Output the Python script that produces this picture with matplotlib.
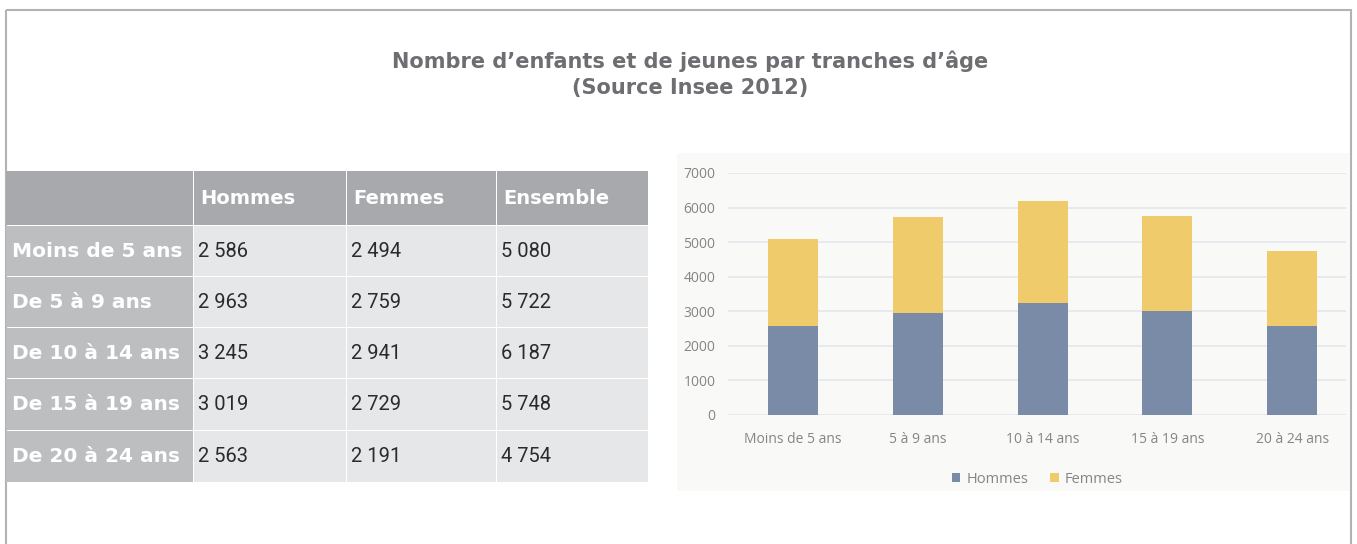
import matplotlib
matplotlib.use("Agg")
import matplotlib.pyplot as plt
from matplotlib.patches import Rectangle

# ---------------- data ----------------
age_groups = ["Moins de 5 ans", "De 5 à 9 ans", "De 10 à 14 ans", "De 15 à 19 ans", "De 20 à 24 ans"]
chart_labels = ["Moins de 5 ans", "5 à 9 ans", "10 à 14 ans", "15 à 19 ans", "20 à 24 ans"]
columns = ["Hommes", "Femmes", "Ensemble"]
hommes = [2586, 2963, 3245, 3019, 2563]
femmes = [2494, 2759, 2941, 2729, 2191]
ensemble = [5080, 5722, 6187, 5748, 4754]
y_ticks = [0, 1000, 2000, 3000, 4000, 5000, 6000, 7000]
title_lines = ["Nombre d\u2019enfants et de jeunes par tranches d\u2019âge", "(Source Insee 2012)"]

def fmt(v):
    return f"{v:,}".replace(",", " ")

BOLD = ["DejaVu Sans"]
DIGITS = ["Roboto", "DejaVu Sans"]
CHART = ["Open Sans", "DejaVu Sans"]

W, H = 1357, 544
fig = plt.figure(figsize=(W / 100, H / 100), dpi=100)
bg = fig.add_axes([0, 0, 1, 1])
bg.set_xlim(0, W)
bg.set_ylim(H, 0)
bg.axis("off")

# outer frame
bg.add_patch(Rectangle((5.5, 9.5), 1345, 545, fill=False, ec="#b3b3b3", lw=1.5))

# title
bg.text(690, 61, title_lines[0], ha="center", va="center", fontsize=15,
        fontweight="bold", color="#6d6e71", family=BOLD)
bg.text(690, 88, title_lines[1], ha="center", va="center", fontsize=15,
        fontweight="bold", color="#6d6e71", family=BOLD)

# table
col_x = [6, 193, 346, 496, 648]
row_y = [171, 225, 276, 327, 378, 430, 482]
gap = 1.2
for r in range(6):
    for c in range(4):
        x0, x1 = col_x[c], col_x[c + 1]
        y0, y1 = row_y[r], row_y[r + 1]
        if r == 0:
            color = "#a7a9ac"
        elif c == 0:
            color = "#bcbec0"
        else:
            color = "#e6e7e8"
        gx = gap if c > 0 else 0
        gy = gap if r > 0 else 0
        bg.add_patch(Rectangle((x0 + gx, y0 + gy), x1 - x0 - gx, y1 - y0 - gy,
                               fc=color, ec="none"))
for c, name in enumerate(columns):
    bg.text(col_x[c + 1] + 7, (row_y[0] + row_y[1]) / 2 + 1, name, ha="left", va="center",
            fontsize=14, fontweight="bold", color="white", family=BOLD)
table_vals = [hommes, femmes, ensemble]
for r, grp in enumerate(age_groups):
    yc = (row_y[r + 1] + row_y[r + 2]) / 2 + 1
    bg.text(col_x[0] + 6, yc, grp, ha="left", va="center", fontsize=14.5,
            fontweight="bold", color="white", family=BOLD)
    for c in range(3):
        bg.text(col_x[c + 1] + 5, yc, fmt(table_vals[c][r]), ha="left", va="center",
                fontsize=14.5, fontweight="normal", color="#2b2b2b", family=DIGITS)

# chart panel background
bg.add_patch(Rectangle((677, 153), 1350 - 677, 491 - 153, fc="#f9f9f8", ec="none"))

# bar chart
ax = fig.add_axes([728 / W, 1 - 415 / H, (1346 - 728) / W, (415 - 173) / H])
ax.patch.set_alpha(0)
x = list(range(len(chart_labels)))
ax.bar(x, hommes, width=0.4, color="#7a8ba7", label="Hommes", zorder=3)
ax.bar(x, femmes, bottom=hommes, width=0.4, color="#f0cb6b", label="Femmes", zorder=3)
ax.set_xlim(-0.52, 4.43)
ax.set_ylim(0, 7000)
ax.set_yticks(y_ticks)
ax.set_yticklabels([str(t) for t in y_ticks])
ax.set_xticks(x)
ax.set_xticklabels(chart_labels)
ax.grid(axis="y", color="#e3e8ee", lw=1.2, zorder=0)
for s in ax.spines.values():
    s.set_visible(False)
ax.tick_params(axis="both", length=0, labelsize=10, labelcolor="#858585")
ax.tick_params(axis="y", pad=9)
ax.tick_params(axis="x", pad=12)
for lab in ax.get_xticklabels() + ax.get_yticklabels():
    lab.set_family(CHART)
leg = ax.legend(loc="center", bbox_to_anchor=(0.5, -0.265), ncol=2, frameon=False,
                prop={"family": CHART, "size": 10.5}, handlelength=0.6, handleheight=0.6,
                handletextpad=0.4, columnspacing=1.5)
for t in leg.get_texts():
    t.set_color("#858585")

fig.savefig("out.png", dpi=100)
